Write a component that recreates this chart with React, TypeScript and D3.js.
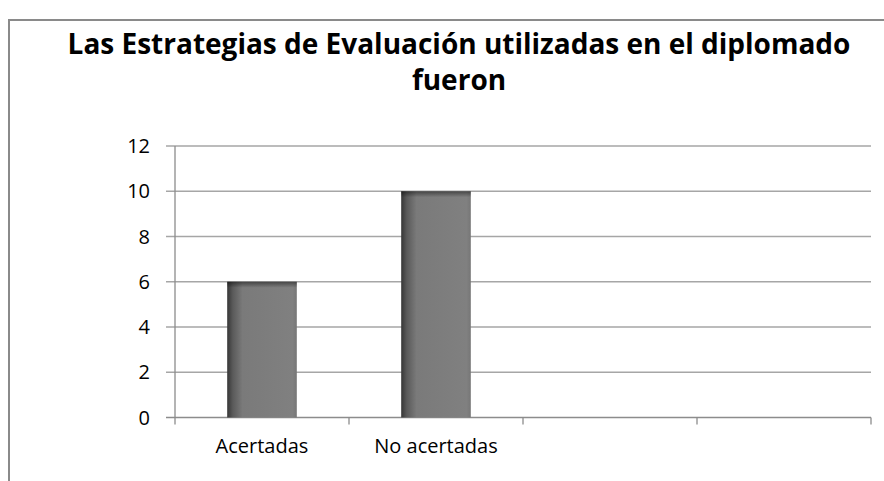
import React from "react";
import * as d3 from "d3";

const categories: string[] = ["Acertadas", "No acertadas", "", ""];
const values: (number | null)[] = [6, 10, null, null];
const yTicks: number[] = [0, 2, 4, 6, 8, 10, 12];
const titleLines: string[] = ["Las Estrategias de Evaluación utilizadas en el diplomado", "fueron"];

const W = 884;
const H = 481;
const FONT = "'Open Sans', 'Liberation Sans', sans-serif";

export default function App() {
  const plot = { left: 175, right: 871, top: 146, bottom: 417.5 };
  const x = d3.scaleBand<string>()
    .domain(categories.map((_, i) => String(i)))
    .range([plot.left, plot.right])
    .paddingInner(0.6)
    .paddingOuter(0.3);
  const xBand = d3.scaleBand<string>()
    .domain(categories.map((_, i) => String(i)))
    .range([plot.left, plot.right]);
  const y = d3.scaleLinear().domain([0, 12]).range([plot.bottom, plot.top]);

  const gridColor = "#a6a6a6";
  const axisColor = "#8c8c8c";

  return (
    <svg width={W} height={H} style={{ position: "absolute", left: 0, top: 0, display: "block" }}>
      <defs>
        <linearGradient id="barH" x1="0" x2="1" y1="0" y2="0">
          <stop offset="0%" stopColor="#363636" />
          <stop offset="8%" stopColor="#5a5a5a" />
          <stop offset="22%" stopColor="#7a7a7a" />
          <stop offset="94%" stopColor="#808080" />
          <stop offset="100%" stopColor="#767676" />
        </linearGradient>
        <linearGradient id="barTop" x1="0" x2="0" y1="0" y2="1">
          <stop offset="0%" stopColor="#000" stopOpacity={0.45} />
          <stop offset="100%" stopColor="#000" stopOpacity={0} />
        </linearGradient>
      </defs>
      <rect x={0} y={0} width={W} height={H} fill="#fff" />
      {/* chart area border */}
      <rect x={9} y={20} width={W + 20} height={H + 20} fill="none" stroke="#8a8a8a" strokeWidth={2} />

      {/* title */}
      {titleLines.map((t, i) => (
        <text
          key={i}
          x={459}
          y={54 + i * 36}
          textAnchor="middle"
          fontFamily={FONT}
          fontWeight="bold"
          fontSize={28}
          fill="#000"
        >
          {t}
        </text>
      ))}

      {/* gridlines */}
      {yTicks.map((t) => (
        <line key={"g" + t} x1={plot.left - 9} x2={plot.right} y1={y(t)} y2={y(t)} stroke={t === 0 ? axisColor : gridColor} strokeWidth={1.3} />
      ))}
      {/* y axis */}
      <line x1={plot.left} x2={plot.left} y1={plot.top} y2={plot.bottom + 7} stroke={axisColor} strokeWidth={1.3} />
      {yTicks.map((t) => (
        <text key={"yl" + t} x={plot.left - 25} y={y(t)} dy="0.35em" textAnchor="end" fontFamily={FONT} fontSize={20} fill="#000">
          {t}
        </text>
      ))}
      {/* x category ticks */}
      {categories.map((_, i) => (
        <line key={"xt" + i} x1={xBand(String(i))! + xBand.bandwidth()} x2={xBand(String(i))! + xBand.bandwidth()} y1={plot.bottom} y2={plot.bottom + 7} stroke={axisColor} strokeWidth={1.3} />
      ))}

      {/* bars */}
      {values.map((v, i) =>
        v == null ? null : (
          <g key={"b" + i}>
            <rect x={x(String(i))} y={y(v)} width={x.bandwidth()} height={y(0) - y(v)} fill="url(#barH)" />
            <rect x={x(String(i))} y={y(v)} width={x.bandwidth()} height={6} fill="url(#barTop)" />
          </g>
        )
      )}

      {/* category labels */}
      {categories.map((c, i) => (
        <text key={"xl" + i} x={xBand(String(i))! + xBand.bandwidth() / 2} y={453} textAnchor="middle" fontFamily={FONT} fontSize={20} fill="#000">
          {c}
        </text>
      ))}
    </svg>
  );
}
